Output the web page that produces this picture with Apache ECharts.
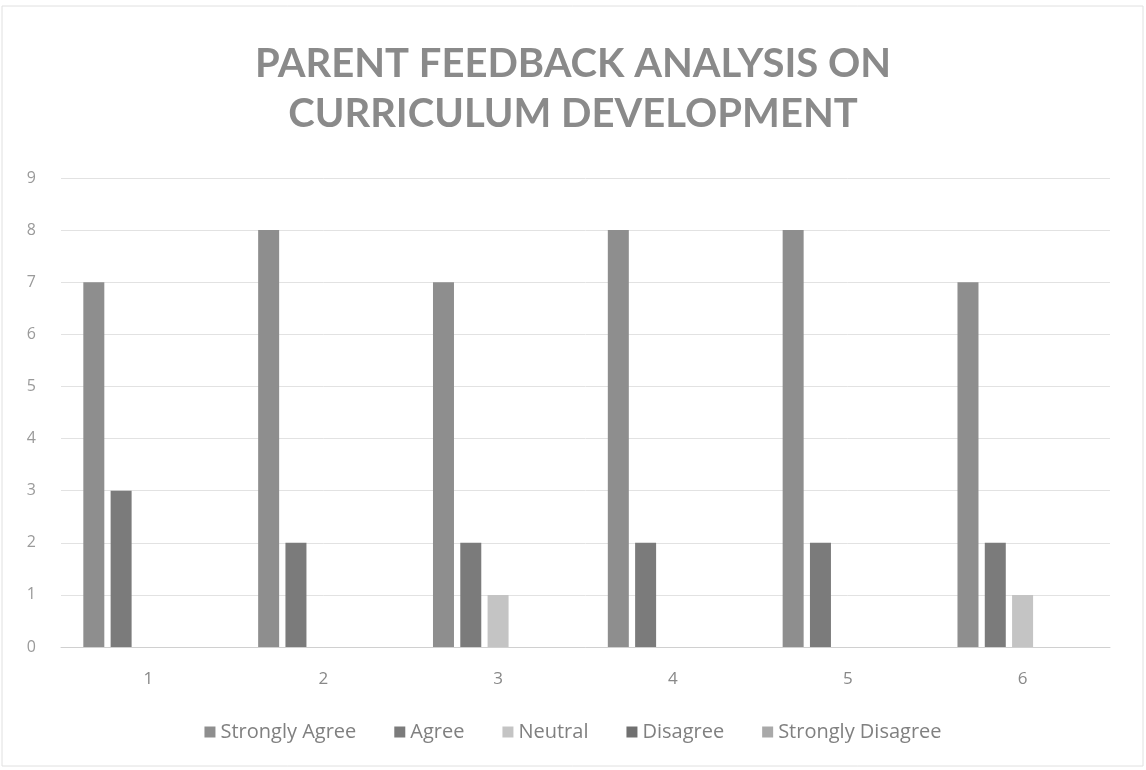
<!DOCTYPE html>
<html><head><meta charset="utf-8">
<script src="https://cdn.jsdelivr.net/npm/echarts@6/dist/echarts.min.js"></script>
<style>html,body{margin:0;padding:0;background:#fff}#c{width:1146px;height:770px}</style>
</head><body><div id="c"></div>
<script>
const categories = ['1','2','3','4','5','6'];
const seriesNames = ['Strongly Agree','Agree','Neutral','Disagree','Strongly Disagree'];
const stronglyAgree = [7,8,7,8,8,7];
const agree = [3,2,2,2,2,2];
const neutral = [0,0,1,0,0,1];
const disagree = [0,0,0,0,0,0];
const stronglyDisagree = [0,0,0,0,0,0];
const yTicks = [0,1,2,3,4,5,6,7,8,9];

const values = [stronglyAgree, agree, neutral, disagree, stronglyDisagree];
const colors = ['#8e8e8e','#7b7b7b','#c4c4c4','#707070','#a9a9a9'];

const chart = echarts.init(document.getElementById('c'));
chart.setOption({
  backgroundColor: '#ffffff',
  animation: false,
  graphic: [{type: 'rect', shape: {x: 2, y: 6, width: 1141, height: 760},
    style: {fill: 'none', stroke: '#e0e0e0', lineWidth: 1}, silent: true}],
  title: {
    text: 'PARENT FEEDBACK ANALYSIS ON\nCURRICULUM DEVELOPMENT',
    left: 'center', top: 34,
    textStyle: {fontFamily: 'Lato', fontSize: 40, fontWeight: 'bold', color: '#8a8a8a', lineHeight: 50}
  },
  legend: {
    data: seriesNames, bottom: 23, left: 'center', itemWidth: 11, itemHeight: 11, itemGap: 38,
    icon: 'rect',
    textStyle: {fontFamily: 'Open Sans', fontSize: 20, color: '#808080'}
  },
  grid: {left: 61, right: 36, top: 178, bottom: 123, containLabel: false},
  xAxis: {
    type: 'category', data: categories,
    axisLine: {lineStyle: {color: '#d0d0d0'}}, axisTick: {show: false},
    axisLabel: {fontFamily: 'Open Sans', fontSize: 17, color: '#888888', margin: 24}
  },
  yAxis: {
    type: 'value', min: 0, max: 9, interval: 1,
    axisLabel: {fontFamily: 'Open Sans', fontSize: 16, color: '#9a9a9a', margin: 25,
      formatter: v => yTicks.includes(v) ? String(v) : ''},
    splitLine: {lineStyle: {color: '#e2e2e2'}},
    axisLine: {show: false}, axisTick: {show: false}
  },
  series: seriesNames.map((n, i) => ({
    name: n, type: 'bar', data: values[i], barWidth: 21, barGap: '30%',
    itemStyle: {color: colors[i]}
  }))
});
</script></body></html>
